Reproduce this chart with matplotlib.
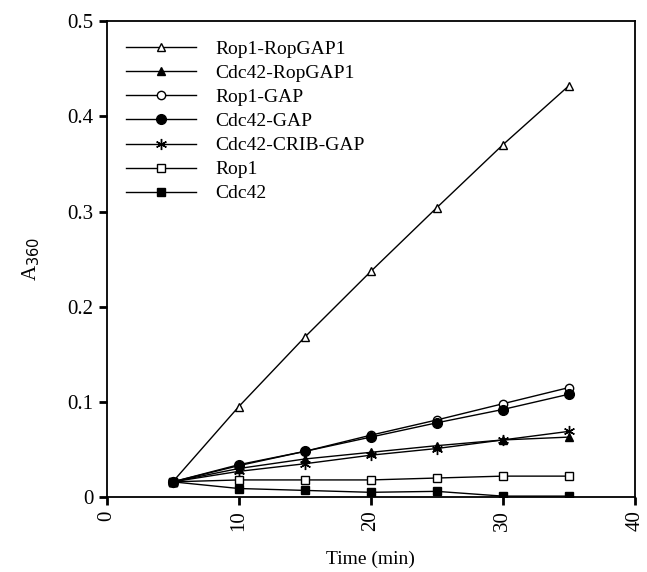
import numpy as np
import matplotlib.pyplot as plt

plt.rcParams['font.family'] = ['Liberation Serif', 'DejaVu Serif']

# time points (min)
t = [5, 10, 15, 20, 25, 30, 35]

rop1_ropgap1 = [0.016, 0.095, 0.168, 0.237, 0.304, 0.370, 0.432]
cdc42_ropgap1 = [0.016, 0.030, 0.040, 0.047, 0.054, 0.060, 0.063]
rop1_gap = [0.016, 0.033, 0.048, 0.065, 0.081, 0.098, 0.115]
cdc42_gap = [0.016, 0.034, 0.048, 0.063, 0.078, 0.092, 0.108]
cdc42_crib_gap = [0.016, 0.027, 0.035, 0.044, 0.051, 0.060, 0.069]
rop1 = [0.016, 0.018, 0.018, 0.018, 0.020, 0.022, 0.022]
cdc42 = [0.016, 0.009, 0.007, 0.005, 0.006, 0.001, 0.001]

labels = ['Rop1-RopGAP1', 'Cdc42-RopGAP1', 'Rop1-GAP', 'Cdc42-GAP',
          'Cdc42-CRIB-GAP', 'Rop1', 'Cdc42']
series = [rop1_ropgap1, cdc42_ropgap1, rop1_gap, cdc42_gap,
          cdc42_crib_gap, rop1, cdc42]
markers = ['^', '^', 'o', 'o', (6, 2, 0), 's', 's']
fills = ['white', 'black', 'white', 'black', 'black', 'white', 'black']
sizes = [6, 6, 6, 7, 8, 6, 6]

fig = plt.figure(figsize=(6.47, 5.72), dpi=100)
ax = fig.add_axes([0.165, 0.131, 0.816, 0.832])

for y, lab, m, fc, ms in zip(series, labels, markers, fills, sizes):
    ax.plot(t, y, '-', color='black', lw=1.0, marker=m, ms=ms,
            mfc=fc, mec='black', mew=1.0, label=lab)

ax.set_xlim(0, 40)
ax.set_ylim(0, 0.5)
ax.set_xticks([0, 10, 20, 30, 40])
ax.set_yticks([0, 0.1, 0.2, 0.3, 0.4, 0.5])
ax.set_yticklabels(['0', '0.1', '0.2', '0.3', '0.4', '0.5'])
ax.tick_params(direction='out', length=6, width=2, labelsize=15)
for lbl in ax.get_xticklabels():
    lbl.set_rotation(90)
for s in ax.spines.values():
    s.set_linewidth(1.3)

ax.set_xlabel('Time (min)', fontsize=14, labelpad=14)
ax.set_ylabel('A$_{360}$', fontsize=15, labelpad=18)

ax.legend(loc='upper left', frameon=False, fontsize=14, handlelength=3.6,
          labelspacing=0.33, borderaxespad=0.6, handletextpad=1.0)

fig.savefig('out.png', dpi=100)
